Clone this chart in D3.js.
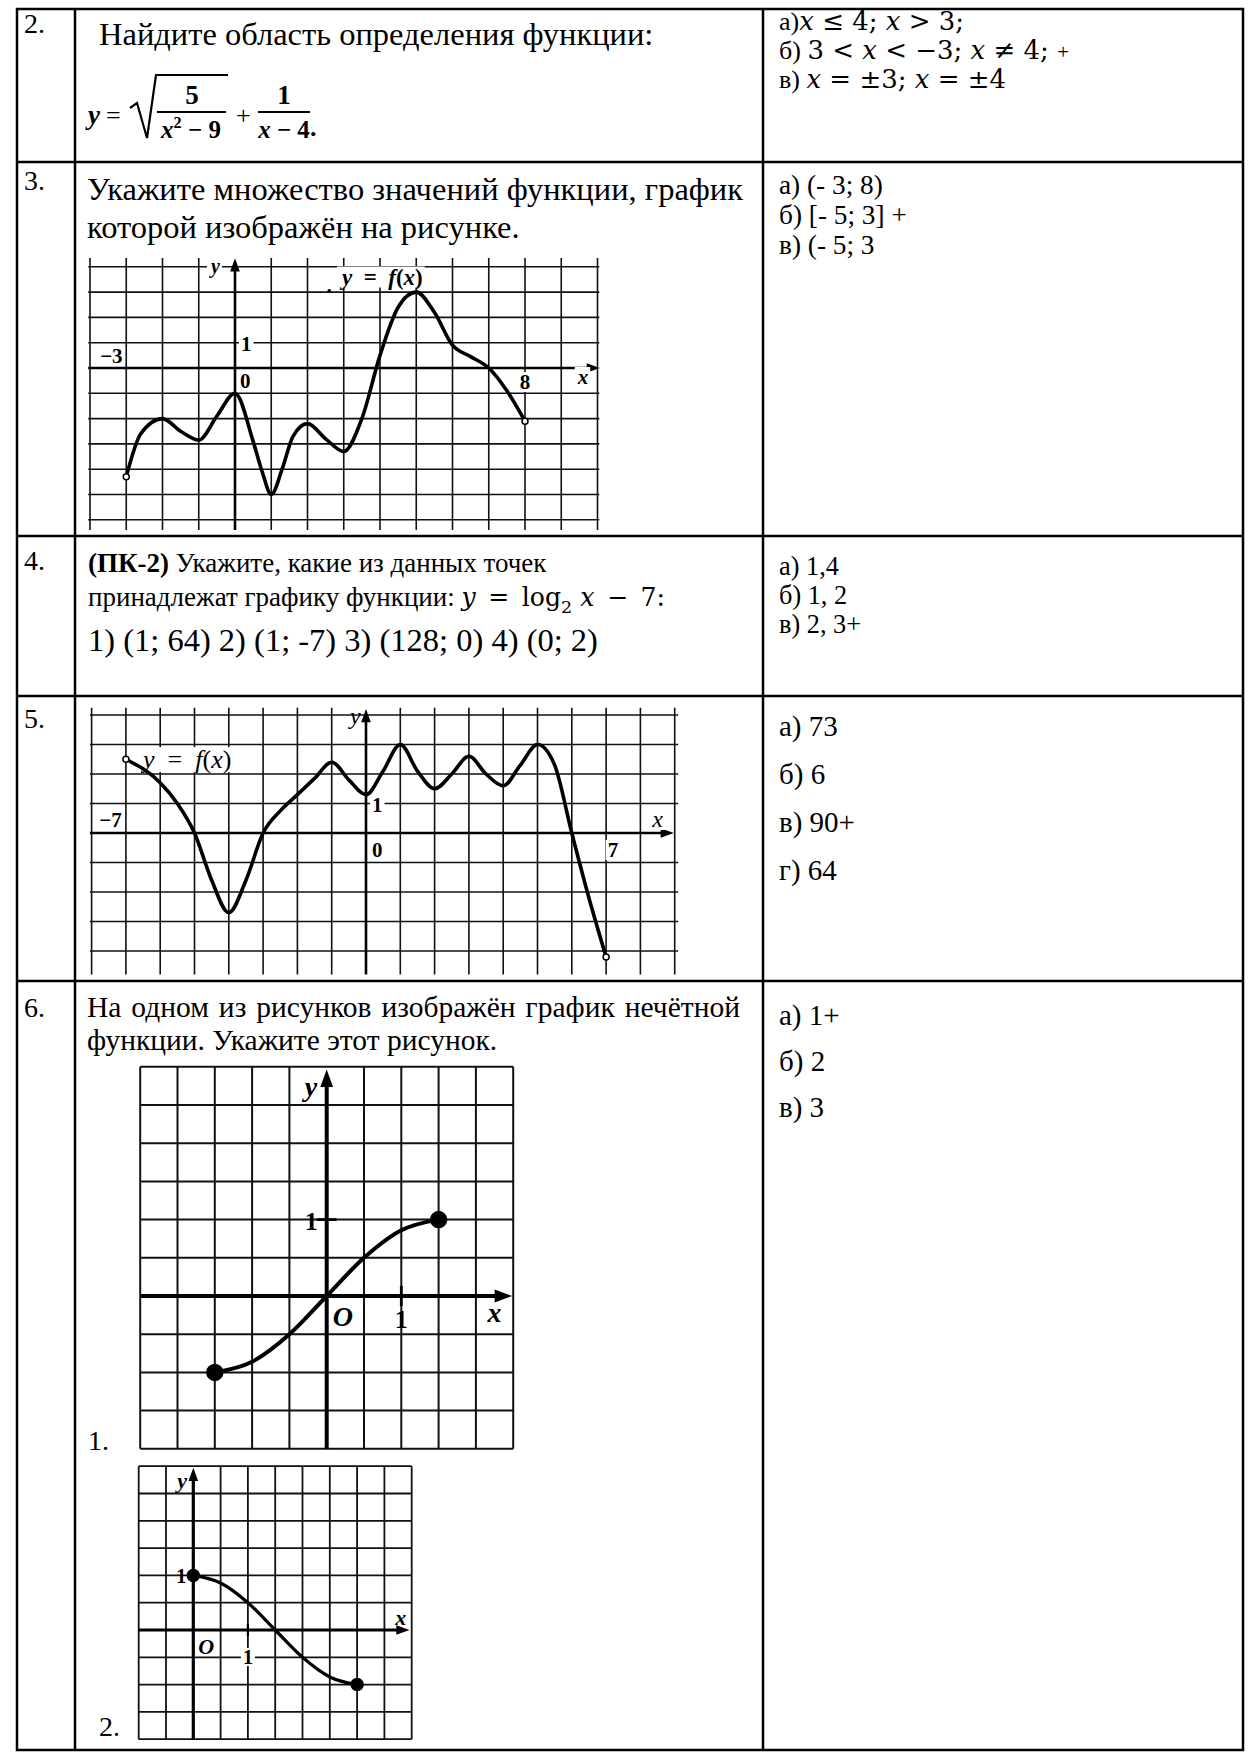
<!DOCTYPE html>
<html>
<head>
<meta charset="utf-8">
<script src="https://cdn.jsdelivr.net/npm/d3@7"></script>
<style>
  body { margin: 0; background: #fff; }
  svg { display: block; }
  text { font-family: "Liberation Serif", "Times New Roman", serif; fill: #000; }
</style>
</head>
<body>
<div id="chart"></div>
<script>
// ---- data ----
const rowNumbers = ["2.", "3.", "4.", "5.", "6."];

const q2Text = "Найдите область определения функции:";
const q3Text = ["Укажите множество значений функции, график", "которой изображён на рисунке."];
const q4Text = [
  [["(ПК-2)", "b"], [" Укажите, какие из данных точек", ""]],
  [["принадлежат графику функции: ", ""], ["y", "mi"], ["\u2002=\u2002log", "m"], ["2", "ms"], [" ", "m"], ["x", "mi"], ["\u2002−\u20027:", "m"]]
];
const q4Points = "1) (1; 64) 2) (1; -7) 3) (128; 0) 4) (0; 2)";
const q6Text = ["На одном из рисунков изображён график нечётной", "функции. Укажите этот рисунок."];

const answers2 = [
  [["а)", ""], ["x", "mi"], [" ≤ 4; ", "m"], ["x", "mi"], [" > 3;", "m"]],
  [["б) ", ""], ["3 < ", "m"], ["x", "mi"], [" < −3; ", "m"], ["x", "mi"], [" ≠ 4; ", "m"], ["+", "k"]],
  [["в) ", ""], ["x", "mi"], [" = ", "m"], ["±", "m"], ["3; ", "m"], ["x", "mi"], [" = ", "m"], ["±", "m"], ["4", "m"]]
];
const answers3 = ["а) (- 3; 8)", "б) [- 5; 3] +", "в) (- 5; 3"];
const answers4 = ["а) 1,4", "б) 1, 2", "в) 2, 3+"];
const answers5 = ["а) 73", "б) 6", "в) 90+", "г) 64"];
const answers6 = ["а) 1+", "б) 2", "в) 3"];

// graph of task 3: y = f(x) on [-3; 8]
const g3X = [-3, -2.6, -2, -1.5, -1, -0.5, 0, 0.5, 0.75, 1, 1.3, 1.6, 2, 2.5, 3, 3.5, 4, 4.5, 5, 5.5, 6, 6.5, 7, 7.5, 8];
const g3Y = [-4.3, -2.6, -2, -2.5, -2.85, -1.9, -1, -2.9, -4.1, -5, -4.0, -2.7, -2.2, -2.8, -3.3, -2.0, 0.5, 2.4, 3, 2.2, 0.9, 0.45, 0, -0.9, -2.1];

// graph of task 5: y = f(x) on [-7; 7]
const g5X = [-7, -6, -5.5, -5, -4.5, -4, -3.5, -3, -2.5, -2, -1.5, -1, -0.5, 0, 0.5, 1, 1.5, 2, 2.5, 3, 3.5, 4, 4.5, 5, 5.5, 6, 6.5, 7];
const g5Y = [2.5, 1.7, 1.0, 0, -1.6, -2.7, -1.6, 0, 0.75, 1.3, 1.85, 2.4, 1.8, 1.3, 2.1, 3, 2.1, 1.5, 2.0, 2.6, 2.0, 1.6, 2.3, 3, 2.3, 0, -2.2, -4.2];

// task 6, picture 1 (odd function)
const g61X = [-1.5, -1, -0.5, 0, 0.5, 1, 1.5];
const g61Y = [-1, -0.86, -0.5, 0, 0.5, 0.86, 1];
// task 6, picture 2
const g62X = [0, 0.5, 1, 1.5, 2, 2.5, 3];
const g62Y = [1, 0.86, 0.5, 0, -0.5, -0.86, -1];

// ---- layout ----
const W = 1259, H = 1753;
const T = { left: 17, num: 75, mid: 763, right: 1243, rows: [9, 162, 536, 696, 981, 1750] };
const MATH = '"DejaVu Serif", serif';

const svg = d3.select('#chart').append('svg').attr('width', W).attr('height', H);
svg.append('rect').attr('width', W).attr('height', H).attr('fill', '#fff');

// parts: [text, flags]  i italic, b bold, m math font, s subscript, p superscript, k small
function richText(parent, x, y, parts, size, anchor, mscale) {
  const ms = mscale || 0.93;
  const t = parent.append('text').attr('x', x).attr('y', y)
    .style('font-size', size + 'px').attr('text-anchor', anchor || 'start');
  let shift = 0;
  parts.forEach(p => {
    const f = p[1];
    const s = t.append('tspan').text(p[0]);
    let fs = size;
    if (f.includes('m')) { s.style('font-family', MATH); fs = size * ms; }
    if (f.includes('k')) fs = size * 0.8;
    let dy = -shift; shift = 0;
    if (f.includes('s')) { fs = fs * 0.7; dy += size * 0.25; shift = size * 0.25; }
    if (f.includes('p')) { fs = fs * 0.65; dy -= size * 0.4; shift = -size * 0.4; }
    if (dy) s.attr('dy', dy);
    s.style('font-size', fs + 'px');
    if (f.includes('i')) s.style('font-style', 'italic');
    if (f.includes('b')) s.style('font-weight', 'bold');
  });
  return t;
}

// stretch the spaces of a line so it fills the given width (justified paragraph)
function justify(sel, width) {
  const w = sel.node().getComputedTextLength();
  const n = (sel.text().match(/ /g) || []).length;
  if (n && width > w) sel.style('word-spacing', ((width - w) / n) + 'px');
}

// ---- table ----
const tg = svg.append('g').attr('stroke', '#000').attr('stroke-width', 2.5);
tg.append('rect').attr('x', T.left).attr('y', T.rows[0])
  .attr('width', T.right - T.left).attr('height', T.rows[5] - T.rows[0]).attr('fill', 'none');
[T.num, T.mid].forEach(x => tg.append('line').attr('x1', x).attr('x2', x).attr('y1', T.rows[0]).attr('y2', T.rows[5]));
T.rows.slice(1, 5).forEach(y => tg.append('line').attr('x1', T.left).attr('x2', T.right).attr('y1', y).attr('y2', y));

const numBase = [33, 190, 570, 728, 1017];
rowNumbers.forEach((n, i) => svg.append('text').attr('x', 24).attr('y', numBase[i]).style('font-size', '28px').text(n));

// ---- row 2 ----
svg.append('text').attr('x', 99).attr('y', 45).style('font-size', '32.5px').text(q2Text);
const fx = svg.append('g');
const bold = (sel) => sel.style('font-weight', 'bold');
fx.append('text').attr('x', 88).attr('y', 124).style('font-size', '27px').style('font-style', 'italic').style('font-weight', 'bold').text('y');
fx.append('text').attr('x', 106).attr('y', 124).style('font-size', '26px').text('=');
fx.append('path').attr('d', 'M130,108 L137,103 L147,138 L156,75 L228,75')
  .attr('fill', 'none').attr('stroke', '#000').attr('stroke-width', 2.2);
bold(fx.append('text').attr('x', 192).attr('y', 104).attr('text-anchor', 'middle').style('font-size', '27px').text('5'));
fx.append('line').attr('x1', 157).attr('x2', 226).attr('y1', 112).attr('y2', 112).attr('stroke', '#000').attr('stroke-width', 2.2);
richText(fx, 191, 138, [["x", "ib"], ["2", "pb"], [" − 9", "b"]], 25, 'middle');
fx.append('text').attr('x', 236).attr('y', 124).style('font-size', '26px').text('+');
bold(fx.append('text').attr('x', 284).attr('y', 104).attr('text-anchor', 'middle').style('font-size', '27px').text('1'));
fx.append('line').attr('x1', 258).attr('x2', 310).attr('y1', 112).attr('y2', 112).attr('stroke', '#000').attr('stroke-width', 2.2);
richText(fx, 284, 138, [["x", "ib"], [" − 4", "b"]], 25, 'middle');
bold(fx.append('text').attr('x', 310).attr('y', 136).style('font-size', '26px').text('.'));

answers2.forEach((a, i) => richText(svg, 779, 30 + i * 29, a, 26, 'start', 1.0));

// ---- row 3 ----
justify(svg.append('text').attr('x', 87).attr('y', 200).style('font-size', '32.5px').text(q3Text[0]), 653);
svg.append('text').attr('x', 87).attr('y', 238).style('font-size', '32.5px').text(q3Text[1]);
answers3.forEach((s, i) => svg.append('text').attr('x', 779).attr('y', 194 + i * 30).style('font-size', '27.3px').text(s));

// ---- row 4 ----
q4Text.forEach((p, i) => richText(svg, 88, [572, 606][i], p, 27));
svg.append('text').attr('x', 88).attr('y', 651).style('font-size', '32.5px').text(q4Points);
answers4.forEach((s, i) => svg.append('text').attr('x', 779).attr('y', 575 + i * 29).style('font-size', '26.3px').text(s));

// ---- row 5 ----
answers5.forEach((s, i) => svg.append('text').attr('x', 779).attr('y', 736 + i * 48).style('font-size', '29px').text(s));

// ---- row 6 ----
justify(svg.append('text').attr('x', 87).attr('y', 1017).style('font-size', '29.5px').text(q6Text[0]), 653);
svg.append('text').attr('x', 87).attr('y', 1050).style('font-size', '29.5px').text(q6Text[1]);
answers6.forEach((s, i) => svg.append('text').attr('x', 779).attr('y', 1025 + i * 46).style('font-size', '29px').text(s));
svg.append('text').attr('x', 88).attr('y', 1450).style('font-size', '28px').text('1.');
svg.append('text').attr('x', 99).attr('y', 1736).style('font-size', '28px').text('2.');

// ---- plots ----
function plot(cfg) {
  const x = d3.scaleLinear().domain([0, 1]).range([cfg.x0, cfg.x0 + cfg.xu]);
  const y = d3.scaleLinear().domain([0, 1]).range([cfg.y0, cfg.y0 - cfg.yu]);
  const g = svg.append('g');
  const gx = cfg.gridX.filter(v => v !== 0);
  const gy = cfg.gridY.filter(v => v !== 0);
  g.selectAll('line.gv').data(gx).join('line').attr('class', 'gv')
    .attr('x1', d => x(d)).attr('x2', d => x(d))
    .attr('y1', y(cfg.yExt[0])).attr('y2', y(cfg.yExt[1]))
    .attr('stroke', '#111').attr('stroke-width', cfg.gw);
  g.selectAll('line.gh').data(gy).join('line').attr('class', 'gh')
    .attr('y1', d => y(d)).attr('y2', d => y(d))
    .attr('x1', x(cfg.xExt[0])).attr('x2', x(cfg.xExt[1]))
    .attr('stroke', '#111').attr('stroke-width', cfg.gw);
  // axes
  g.append('line').attr('x1', x(cfg.xExt[0])).attr('x2', x(cfg.xArrow)).attr('y1', y(0)).attr('y2', y(0))
    .attr('stroke', '#000').attr('stroke-width', cfg.aw);
  g.append('line').attr('x1', x(0)).attr('x2', x(0)).attr('y1', y(cfg.yExt[0])).attr('y2', y(cfg.yArrow))
    .attr('stroke', '#000').attr('stroke-width', cfg.aw);
  const a = cfg.arrow;
  g.append('path').attr('d', `M${x(cfg.xArrow) + a},${y(0)} l${-a * 2.2},${-a * 0.8} l0,${a * 1.6} z`);
  g.append('path').attr('d', `M${x(0)},${y(cfg.yArrow) - a} l${-a * 0.8},${a * 2.2} l${a * 1.6},0 z`);
  // labels, some on a white patch
  (cfg.labels || []).forEach(l => {
    const t = richText(g, x(l.x) + (l.dx || 0), y(l.y) + (l.dy || 0), l.parts, l.size, l.anchor);
    if (l.bg) {
      const bb = t.node().getBBox();
      g.insert('rect', () => t.node()).attr('x', bb.x - 2).attr('y', bb.y + 2)
        .attr('width', bb.width + 4).attr('height', bb.height - 4).attr('fill', '#fff');
    }
  });
  // unit ticks
  (cfg.tickX || []).forEach(v => g.append('line').attr('x1', x(v)).attr('x2', x(v))
    .attr('y1', y(0) - cfg.tl).attr('y2', y(0) + cfg.tl).attr('stroke', '#000').attr('stroke-width', cfg.aw * 0.7));
  (cfg.tickY || []).forEach(v => g.append('line').attr('y1', y(v)).attr('y2', y(v))
    .attr('x1', x(0) - cfg.tl).attr('x2', x(0) + cfg.tl).attr('stroke', '#000').attr('stroke-width', cfg.aw * 0.7));
  // curve
  const pts = cfg.cx.map((v, i) => [v, cfg.cy[i]]);
  g.append('path').datum(pts)
    .attr('d', d3.line().x(d => x(d[0])).y(d => y(d[1])).curve(d3.curveMonotoneX))
    .attr('fill', 'none').attr('stroke', '#000').attr('stroke-width', cfg.cw)
    .attr('stroke-linejoin', 'round').attr('stroke-linecap', 'round');
  (cfg.ends || []).forEach(e => {
    const p = pts[e.i];
    g.append('circle').attr('cx', x(p[0])).attr('cy', y(p[1])).attr('r', e.r)
      .attr('fill', e.open ? '#fff' : '#000').attr('stroke', '#000').attr('stroke-width', 1.5);
  });
  return { x, y, g };
}

const p3 = plot({
  x0: 235, xu: 36.25, y0: 368, yu: 25.3,
  gridX: d3.range(-4, 11), gridY: d3.range(-6, 5),
  xExt: [-4.05, 10.05], yExt: [-6.4, 4.35], xArrow: 9.9, yArrow: 4.1,
  gw: 1.6, aw: 2.6, cw: 3.6, arrow: 6, tl: 0,
  cx: g3X, cy: g3Y, ends: [{ i: 0, r: 3, open: true }, { i: g3X.length - 1, r: 3, open: true }],
  labels: [
    { x: 0, y: 4, dx: -24, dy: 6, parts: [["y", "ib"]], size: 20, bg: true },
    { x: 2.95, y: 3.3, parts: [["y", "ib"], ["\u2002=\u2002", "b"], ["f", "ib"], ["(", "b"], ["x", "ib"], [")", "b"]], size: 23, bg: true },
    { x: 0, y: 1, dx: 6, dy: 8, parts: [["1", "b"]], size: 21, bg: true },
    { x: -3.1, y: 0, dx: 0, dy: -5, parts: [["−3", "b"]], size: 21, anchor: 'end', bg: true },
    { x: 0, y: 0, dx: 5, dy: 20, parts: [["0", "b"]], size: 21, bg: true },
    { x: 8, y: 0, dx: 0, dy: 21, parts: [["8", "b"]], size: 21, anchor: 'middle', bg: true },
    { x: 9.6, y: 0, dx: 0, dy: 16, parts: [["x", "ib"]], size: 21, anchor: 'middle', bg: true }
  ]
});
p3.g.append('circle').attr('cx', p3.x(2.6)).attr('cy', p3.y(3.05)).attr('r', 1.8);

plot({
  x0: 366, xu: 34.3, y0: 833, yu: 29.5,
  gridX: d3.range(-8, 10), gridY: d3.range(-4, 5),
  xExt: [-8.05, 9.1], yExt: [-4.8, 4.25], xArrow: 8.8, yArrow: 4.0,
  gw: 1.6, aw: 2.6, cw: 3.6, arrow: 6, tl: 0,
  cx: g5X, cy: g5Y, ends: [{ i: 0, r: 3, open: true }, { i: g5X.length - 1, r: 3, open: true }],
  labels: [
    { x: 0, y: 3.75, dx: -16, dy: 2, parts: [["y", "i"]], size: 24 },
    { x: -6.5, y: 2.2, parts: [["y", "i"], ["\u2002=\u2002", ""], ["f", "i"], ["(", ""], ["x", "i"], [")", ""]], size: 26, bg: true },
    { x: 0, y: 1, dx: 6, dy: 8, parts: [["1", "b"]], size: 21, bg: true },
    { x: -7.45, y: 0, dx: 0, dy: -6, parts: [["−7", "b"]], size: 21, anchor: 'middle', bg: true },
    { x: 0, y: 0, dx: 6, dy: 24, parts: [["0", "b"]], size: 21, bg: true },
    { x: 7.2, y: 0, dx: 0, dy: 24, parts: [["7", "b"]], size: 21, anchor: 'middle', bg: true },
    { x: 8.5, y: 0, dx: 0, dy: -6, parts: [["x", "i"]], size: 24, anchor: 'middle', bg: true }
  ]
});

plot({
  x0: 326.7, xu: 74.6, y0: 1296, yu: 76.4,
  gridX: d3.range(-2.5, 2.51, 0.5), gridY: d3.range(-2, 3.01, 0.5),
  xExt: [-2.5, 2.5], yExt: [-2, 3], xArrow: 2.38, yArrow: 2.86,
  gw: 2, aw: 4, cw: 4, arrow: 8, tl: 10,
  tickX: [1], tickY: [1],
  cx: g61X, cy: g61Y, ends: [{ i: 0, r: 8 }, { i: g61X.length - 1, r: 8 }],
  labels: [
    { x: 0, y: 2.75, dx: -22, dy: 10, parts: [["y", "ib"]], size: 28 },
    { x: 0, y: 1, dx: -22, dy: 10, parts: [["1", "b"]], size: 26 },
    { x: 0, y: 0, dx: 6, dy: 30, parts: [["O", "ib"]], size: 28 },
    { x: 1, y: 0, dx: 0, dy: 32, parts: [["1", "b"]], size: 26, anchor: 'middle' },
    { x: 2.25, y: 0, dx: 0, dy: 26, parts: [["x", "ib"]], size: 28, anchor: 'middle' }
  ]
});

plot({
  x0: 193.3, xu: 54.6, y0: 1630, yu: 54.6,
  gridX: d3.range(-1, 4.01, 0.5), gridY: d3.range(-2, 3.01, 0.5),
  xExt: [-1, 4], yExt: [-2, 3], xArrow: 3.85, yArrow: 2.86,
  gw: 1.8, aw: 3.2, cw: 3.2, arrow: 6, tl: 6,
  tickX: [1], tickY: [1],
  cx: g62X, cy: g62Y, ends: [{ i: 0, r: 6 }, { i: g62X.length - 1, r: 6 }],
  labels: [
    { x: 0, y: 2.75, dx: -16, dy: 8, parts: [["y", "ib"]], size: 22 },
    { x: 0, y: 1, dx: -17, dy: 8, parts: [["1", "b"]], size: 20 },
    { x: 0, y: 0, dx: 5, dy: 24, parts: [["O", "ib"]], size: 22 },
    { x: 1, y: 0, dx: 0, dy: 34, parts: [["1", "b"]], size: 20, anchor: 'middle', bg: true },
    { x: 3.8, y: 0, dx: 0, dy: -5, parts: [["x", "ib"]], size: 22, anchor: 'middle' }
  ]
});
</script>
</body>
</html>
